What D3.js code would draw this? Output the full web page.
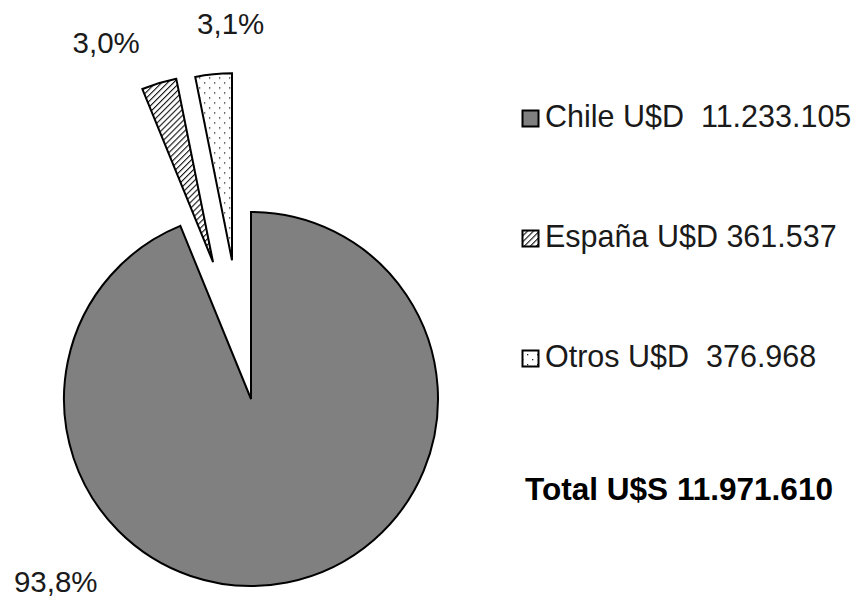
<!DOCTYPE html>
<html>
<head>
<meta charset="utf-8">
<script src="https://cdn.jsdelivr.net/npm/d3@7"></script>
<style>
  html, body { margin: 0; padding: 0; background: #fff; }
  svg { display: block; font-family: "Liberation Sans", Arial, sans-serif; }
  text { white-space: pre; }
</style>
</head>
<body>
<svg id="chart" width="861" height="599"></svg>
<script>
// Exportaciones por destino (U$D)
const categories = ["Chile", "España", "Otros"];
const values = [11233105, 361537, 376968];
const legendLabels = ["Chile U$D  11.233.105", "España U$D 361.537", "Otros U$D  376.968"];
const totalLabel = "Total U$S 11.971.610";

const fmtPct = v => d3.format(".1f")(v).replace(".", ",") + "%";

const W = 861, H = 599;
const cx = 251, cy = 399, R = 187;
// pull-out of each slice: distance and direction (degrees clockwise from 12 o'clock)
const explode = [
  { dist: 0, angle: 0 },
  { dist: 142, angle: -15.5 },
  { dist: 140, angle: -7.8 }
];
// label placement (angle in degrees clockwise from 12 o'clock, distance from pie centre)
const labelPolar = [
  { angle: -133, dist: 267 },
  { angle: -22.1, dist: 385 },
  { angle: -3.1, dist: 375.6 }
];
const rad = a => a * Math.PI / 180;

const svg = d3.select("#chart");
const defs = svg.append("defs");

// diagonal hatch
const hatch = defs.append("pattern")
  .attr("id", "hatch").attr("patternUnits", "userSpaceOnUse")
  .attr("width", 4.2).attr("height", 4.2)
  .attr("patternTransform", "rotate(45)");
hatch.append("rect").attr("width", 4.2).attr("height", 4.2).attr("fill", "#fff");
hatch.append("line").attr("x1", 0).attr("y1", 0).attr("x2", 0).attr("y2", 4.2)
  .attr("stroke", "#111").attr("stroke-width", 2.2);

// sparse dots
const dots = defs.append("pattern")
  .attr("id", "dots").attr("patternUnits", "userSpaceOnUse")
  .attr("width", 10).attr("height", 10);
dots.append("rect").attr("width", 10).attr("height", 10).attr("fill", "#fff");
dots.append("rect").attr("x", 2).attr("y", 2).attr("width", 1.3).attr("height", 1.3).attr("fill", "#222");
dots.append("rect").attr("x", 7).attr("y", 7).attr("width", 1.3).attr("height", 1.3).attr("fill", "#222");

const fills = ["#808080", "url(#hatch)", "url(#dots)"];

const total = d3.sum(values);
const pie = d3.pie().sort(null).value(d => d);
const arcs = pie(values);
const arc = d3.arc().innerRadius(0).outerRadius(R);

const g = svg.append("g").attr("transform", `translate(${cx},${cy})`);

g.selectAll("path.slice")
  .data(arcs)
  .join("path")
  .attr("class", "slice")
  .attr("d", arc)
  .attr("fill", (d, i) => fills[i])
  .attr("stroke", "#000")
  .attr("stroke-width", 2)
  .attr("stroke-linejoin", "miter")
  .attr("transform", (d, i) => {
    const e = explode[i];
    return `translate(${Math.sin(rad(e.angle)) * e.dist},${-Math.cos(rad(e.angle)) * e.dist})`;
  });

// percentage labels
g.selectAll("text.pct")
  .data(arcs)
  .join("text")
  .attr("class", "pct")
  .attr("x", (d, i) => Math.sin(rad(labelPolar[i].angle)) * labelPolar[i].dist)
  .attr("y", (d, i) => -Math.cos(rad(labelPolar[i].angle)) * labelPolar[i].dist)
  .attr("text-anchor", "middle")
  .attr("dominant-baseline", "central")
  .attr("font-size", 29.5)
  .attr("fill", "#1a1a1a")
  .text(d => fmtPct(d.data / total * 100));

// legend
const legendY = d3.scalePoint().domain(categories).range([127, 367]);
const lg = svg.append("g");
const items = lg.selectAll("g.item")
  .data(categories)
  .join("g")
  .attr("class", "item")
  .attr("transform", d => `translate(0,${legendY(d)})`);

items.append("rect")
  .attr("x", 522.5).attr("y", -16.5)
  .attr("width", 16).attr("height", 16)
  .attr("fill", (d, i) => fills[i])
  .attr("stroke", "#000").attr("stroke-width", 2);

items.append("text")
  .attr("x", 545).attr("y", 0)
  .attr("font-size", 30.5)
  .attr("fill", "#1a1a1a")
  .text((d, i) => legendLabels[i]);

svg.append("text")
  .attr("x", 525).attr("y", 500)
  .attr("font-size", 30.5)
  .attr("font-weight", "bold")
  .attr("fill", "#000")
  .attr("textLength", 308)
  .attr("lengthAdjust", "spacingAndGlyphs")
  .text(totalLabel);
</script>
</body>
</html>
